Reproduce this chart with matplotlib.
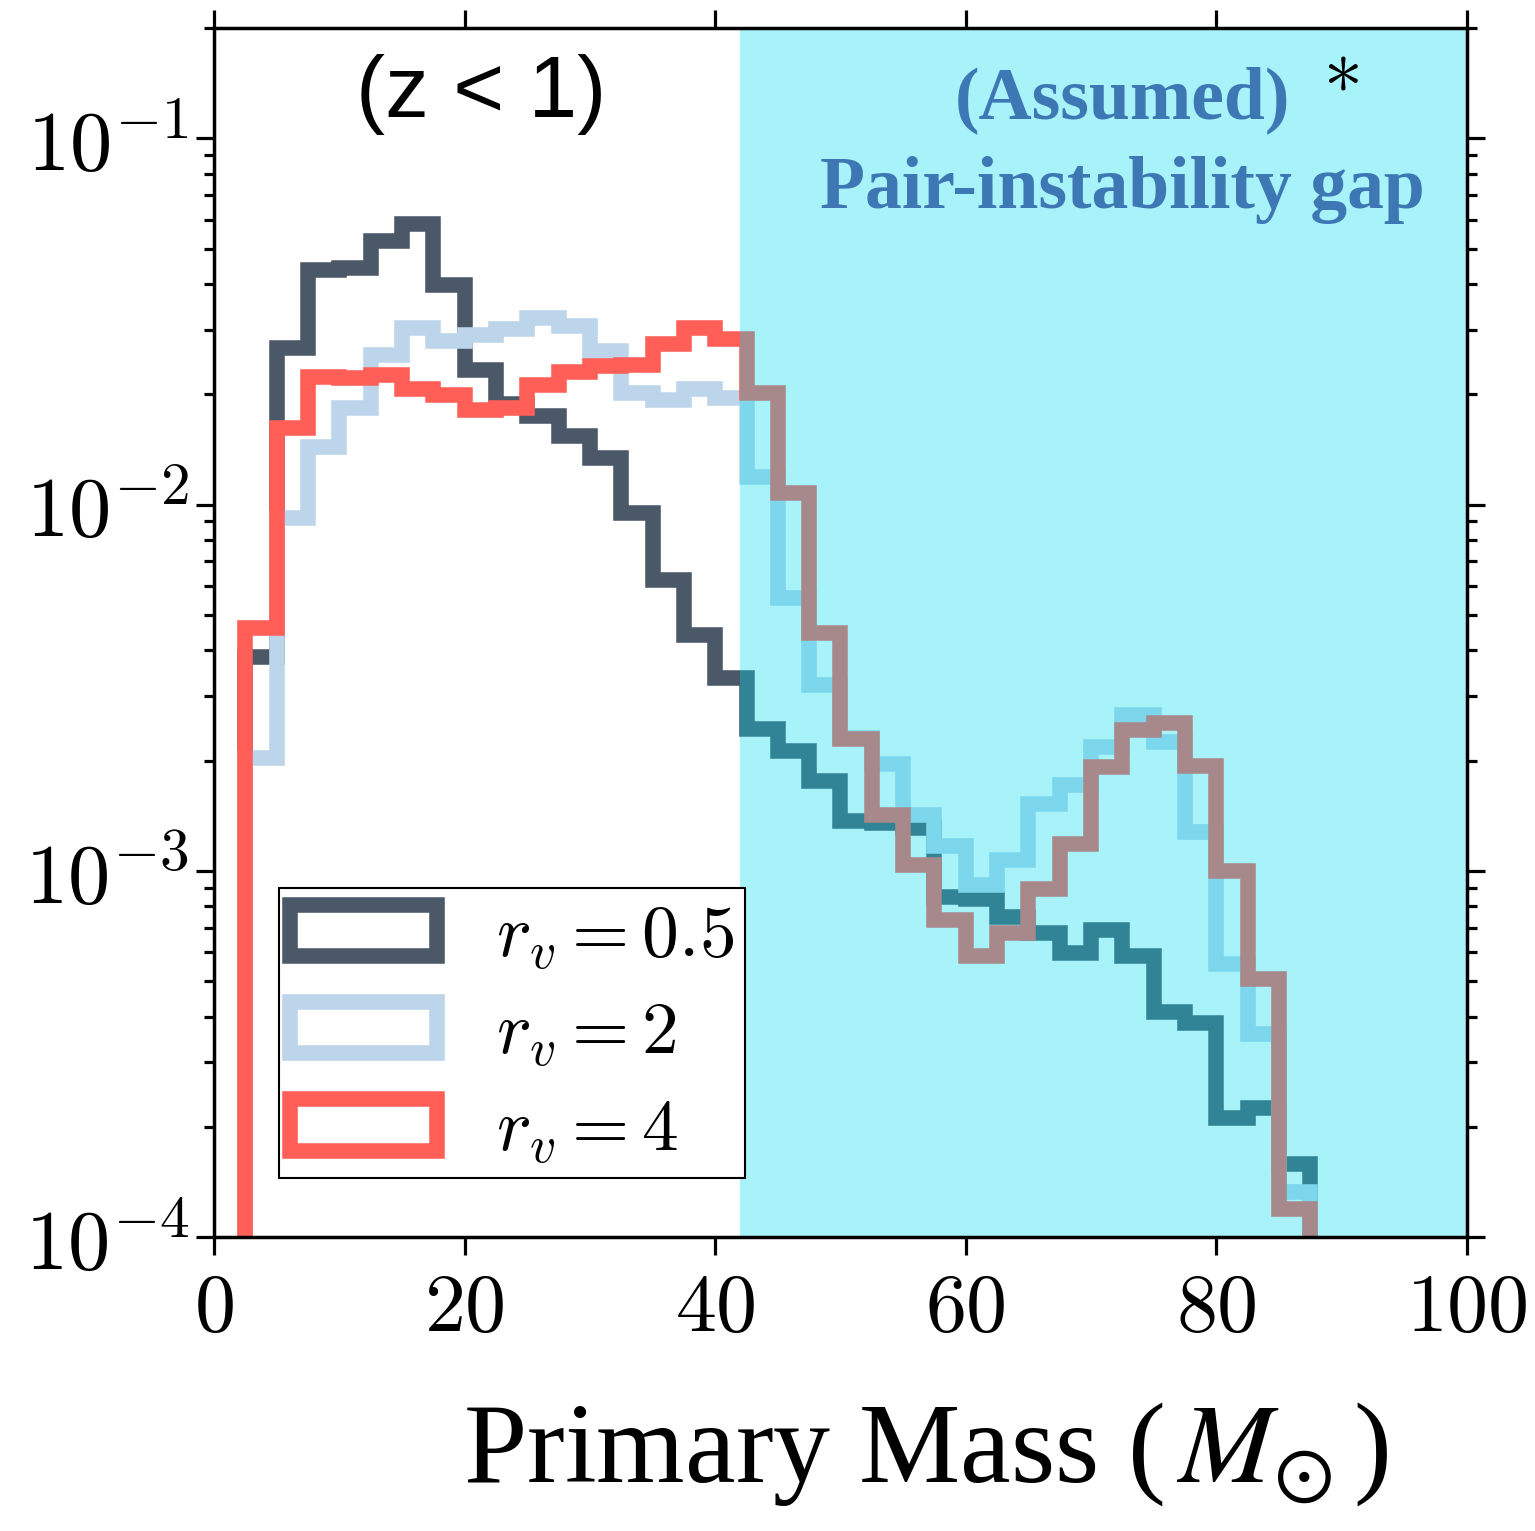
import numpy as np
import matplotlib.pyplot as plt
from matplotlib.ticker import FuncFormatter, LogLocator, NullFormatter, NullLocator

plt.rcParams['mathtext.fontset'] = 'cm'

# bin edges of the primary-mass histogram (Msun)
edges = np.arange(2.5, 87.6, 2.5)

# normalised counts per bin
rv05 = [0.00383, 0.0267, 0.0438, 0.0443, 0.0525, 0.0582, 0.0398, 0.0233, 0.0188, 0.0174,
        0.0154, 0.0134, 0.00946, 0.00624, 0.00441, 0.00337, 0.00244, 0.00213, 0.00176, 0.00137,
        0.00135, 0.00131, 0.00085, 0.00084, 0.000746, 0.000676, 0.000597, 0.000689, 0.000585, 0.000411,
        0.000384, 0.000212, 0.000225, 0.000158]
rv2 = [0.00203, 0.0092, 0.01435, 0.0184, 0.0256, 0.0304, 0.028, 0.029, 0.0302, 0.0323,
       0.0308, 0.0262, 0.0202, 0.0193, 0.0207, 0.0195, 0.01189, 0.00556, 0.00321, 0.0023,
       0.00196, 0.00142, 0.00117, 0.000913, 0.00107, 0.00152, 0.00172, 0.00218, 0.00267, 0.00225,
       0.00128, 0.000556, 0.000358, 0.000133]
rv4 = [0.0046, 0.0162, 0.0223, 0.0222, 0.0226, 0.0207, 0.0199, 0.01816, 0.0183, 0.0212,
       0.0230, 0.0239, 0.024, 0.0275, 0.0304, 0.0283, 0.0201, 0.01074, 0.00446, 0.00229,
       0.00142, 0.00104, 0.000733, 0.000585, 0.000676, 0.000891, 0.00118, 0.00192, 0.00243, 0.00254,
       0.00193, 0.000997, 0.000505, 0.000119]

series = [(rv05, '#4a5868', r'$r_v = 0.5$'),
          (rv2, '#bdd5ea', r'$r_v = 2$'),
          (rv4, '#ff5f57', r'$r_v = 4$')]

fig = plt.figure(figsize=(15.35, 15.31), dpi=100)
ax = fig.add_axes([0.1394, 0.1920, 0.8163, 0.7897])
ax.set_yscale('log')

for vals, col, lab in series:
    ax.hist(edges[:-1], bins=edges, weights=vals, histtype='step',
            color=col, lw=11.2, label=lab, zorder=1)

# assumed pair-instability gap, drawn over the histograms
ax.axvspan(42, 100, color='#00dbf0', alpha=0.34, lw=0, zorder=2)

ax.set_xlim(0, 100)
ax.set_ylim(1e-4, 0.2)
ax.set_xticks([0, 20, 40, 60, 80, 100])
ax.xaxis.set_major_formatter(FuncFormatter(lambda v, p: r'$%d$' % v))
ax.xaxis.set_minor_locator(NullLocator())
ax.set_yticks([1e-4, 1e-3, 1e-2, 1e-1])
ax.yaxis.set_major_formatter(FuncFormatter(lambda v, p: r'$10^{%d}$' % round(np.log10(v))))
ax.yaxis.set_minor_locator(LogLocator(base=10, subs=np.arange(2, 10)))
ax.yaxis.set_minor_formatter(NullFormatter())

ax.tick_params(which='both', direction='out', top=True, right=True, width=2.3, labelsize=59)
ax.tick_params(axis='y', labelsize=61)
ax.tick_params(which='major', length=13)
ax.tick_params(which='minor', length=7)
ax.tick_params(axis='x', pad=10)
ax.tick_params(axis='y', pad=5)
for s in ax.spines.values():
    s.set_linewidth(2.5)
    s.set_zorder(3)

ax.text(0.213, 0.945, '(z < 1)', transform=ax.transAxes, fontsize=63,
        family='Liberation Sans', ha='center', va='center', zorder=4)
ax.text(0.725, 0.940, '(Assumed)', transform=ax.transAxes, fontsize=53,
        family='Liberation Serif', weight='bold', color='#3d78b5', ha='center', va='center', zorder=4)
ax.text(0.725, 0.866, 'Pair-instability gap', transform=ax.transAxes, fontsize=53,
        family='Liberation Serif', weight='bold', color='#3d78b5', ha='center', va='center', zorder=4)
ax.text(0.899, 0.966, r'$*$', transform=ax.transAxes, fontsize=56, ha='center', va='center', zorder=4)

ax.set_xlabel(r'Primary Mass ($\,M_{\odot}\,$)', fontsize=82, family='Liberation Serif',
              math_fontfamily='stix')
ax.xaxis.set_label_coords(0.568, -0.135)

leg = ax.legend(loc='lower left', bbox_to_anchor=(0.052, 0.049), borderaxespad=0,
                fontsize=53, fancybox=False, edgecolor='black', framealpha=1,
                borderpad=0.15, labelspacing=0.33, handletextpad=0.8)
leg.set_zorder(5)
leg.get_frame().set_linewidth(1.5)

plt.savefig('out.png', dpi=100)
